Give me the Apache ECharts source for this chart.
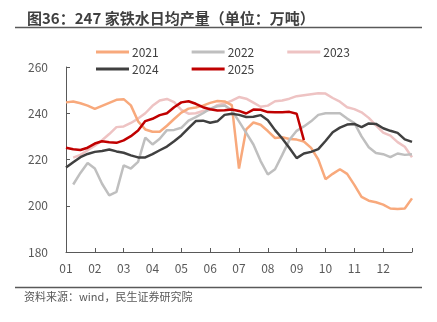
<!DOCTYPE html>
<html><head><meta charset="utf-8">
<script src="https://cdn.jsdelivr.net/npm/echarts@6/dist/echarts.min.js"></script>
<style>html,body{margin:0;padding:0;background:#fff;}#c{width:437px;height:322px;}</style>
</head><body><div id="c"></div>
<script>
// 49 points per year: 4 per month, index 0..48
const monthLabels = ['01','02','03','04','05','06','07','08','09','10','11','12',''];
const s2021 = [244.7,245.1,244.3,243.3,241.9,243.2,244.5,245.8,246.1,243.4,236.5,233,232,232,234.6,237.5,240.3,242,242.5,243.3,244.5,245.3,245.1,243.5,216.1,233,236,235,232.3,229.3,229.6,228.9,228.6,227.8,225,220,211.5,213.8,215.8,213.8,209,203.8,202.2,201.5,200.5,198.8,198.6,198.8,203.2];
const s2022 = [null,209.2,214.2,218.5,216.1,209.5,204.5,206,217.5,216.1,219,229.5,226.5,229,232.7,232.8,233.7,236.8,238.3,240,242,243,243.4,241.3,236.5,231.5,226.5,219.3,213.5,215.8,222,228.5,232.4,234.3,236.5,239.3,240,240,240,237.7,235.8,230,225.3,222.8,222.3,221,222.6,222,222.3];
const s2023 = [null,220.8,222,224,226,228.3,231,234,234.3,235.8,237.7,240,243.2,245.5,246.2,244.8,241.5,239.8,240,241,241.5,243.5,244.2,245.5,247,246.3,244.6,242.8,243.3,245.2,245.5,246.3,247.4,247.8,248.2,248.6,248.5,246.6,245,242.6,241.8,240.4,238,234.8,231.6,230.3,227.5,225.5,221];
const s2024 = [216.5,218.8,221,222.4,223.3,223.7,224.3,223.5,222.9,221.8,220.9,220.9,222.3,224,225.6,227.9,230.4,233.6,236.6,236.8,235.9,236.5,239.3,239.8,239.3,238.4,238.5,239.2,237,232.7,229.1,225,220.6,222.6,223.3,224.5,228,231.8,233.8,235.1,235.4,234,235.6,235.4,233.5,232.4,231.5,228.7,227.6];
const s2025 = [225.1,224.4,224.1,225.1,226.9,227.9,227.5,227.2,228.3,230.1,232.5,236.6,237.6,239.2,240,242.6,244.7,245.2,244.1,242.6,241.7,241.2,241.3,241.6,241,239.9,241.6,241.5,240.5,240.4,240.4,240.6,239.8,228.4];
const yTicks = [180,200,220,240,260];

const cats = [];
for (let i = 0; i <= 48; i++) cats.push(i % 4 === 0 ? monthLabels[i/4] : '');

const chart = echarts.init(document.getElementById('c'), null, {renderer:'canvas'});
const mk = (name, data, color, w, z) => ({name, type:'line', data, symbol:'none', smooth:false, z,
  lineStyle:{color, width:w}, itemStyle:{color}});
const legendBase = {left:91, itemWidth:33, itemHeight:3, itemGap:33, icon:'rect',
  textStyle:{fontSize:12, color:'#404040', padding:[0,0,0,-2]}};
chart.setOption({
  animation:false,
  backgroundColor:'#fff',
  textStyle:{fontFamily:'"Noto Sans CJK SC","Noto Sans",sans-serif'},
  title:{text:'图36：247 家铁水日均产量（单位：万吨）', left:22, top:6,
    textStyle:{fontSize:15, fontWeight:'bold', color:'#404040', fontFamily:'"Noto Sans CJK SC",sans-serif'}},
  graphic:[
    {type:'line', shape:{x1:15,y1:27.5,x2:422,y2:27.5}, style:{stroke:'#595959', lineWidth:1.5}},
    {type:'line', shape:{x1:15,y1:287.5,x2:422,y2:287.5}, style:{stroke:'#595959', lineWidth:1.5}},
    {type:'text', left:24, top:291, style:{text:'资料来源：wind，民生证券研究院', fontSize:11, fill:'#595959', fontFamily:'"Noto Sans CJK SC",sans-serif'}}
  ],
  legend:[
    Object.assign({top:41, data:['2021','2022','2023']}, legendBase),
    Object.assign({top:58, data:['2024','2025']}, legendBase)
  ],
  grid:{left:66, right:25, top:67, bottom:70},
  xAxis:{type:'category', data:cats, boundaryGap:false,
    axisLine:{lineStyle:{color:'#595959', width:1}},
    axisTick:{inside:true, length:4, interval:(i)=>i%4===0, lineStyle:{color:'#595959'}},
    axisLabel:{interval:(i)=>i%4===0, color:'#595959', fontSize:12, margin:10},
    splitLine:{show:false}},
  yAxis:{type:'value', min:180, max:260, interval:20,
    axisLine:{show:true, lineStyle:{color:'#595959', width:1}},
    axisTick:{show:true, inside:true, length:4, lineStyle:{color:'#595959'}},
    axisLabel:{color:'#595959', fontSize:12, margin:18},
    splitLine:{show:false}},
  series:[
    mk('2021', s2021, '#F8A97C', 2.5, 2),
    mk('2022', s2022, '#BFBFBF', 2.5, 3),
    mk('2023', s2023, '#EEC3C3', 2.5, 1),
    mk('2024', s2024, '#404040', 2.5, 4),
    mk('2025', s2025, '#C00000', 2.5, 5)
  ]
});
</script></body></html>
